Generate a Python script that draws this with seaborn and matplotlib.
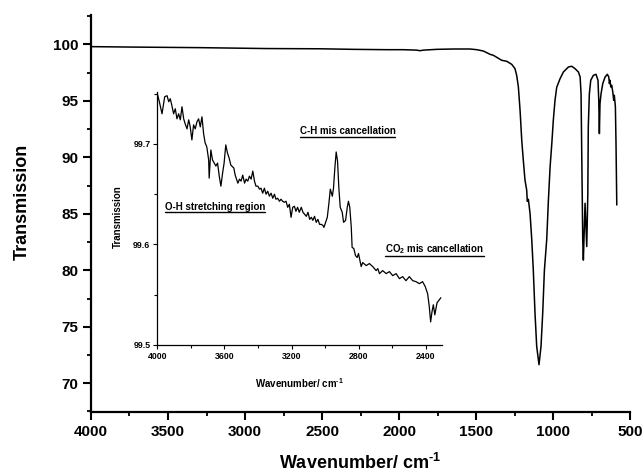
import numpy as np
import pandas as pd
import matplotlib
matplotlib.use("Agg")
import matplotlib.pyplot as plt
import seaborn as sns
from matplotlib.ticker import MultipleLocator, FixedLocator
from matplotlib.lines import Line2D

# ---------------- data ----------------
main_wavenumber = [4000, 3725, 3292, 2859, 2513, 2297, 2080, 1972, 1885, 1863, 1842, 1755, 1647,
                   1539, 1495, 1452, 1409, 1387, 1333, 1300, 1268, 1247, 1236, 1225, 1214, 1203,
                   1193, 1182, 1171, 1167, 1160, 1149, 1138, 1128, 1117, 1106, 1091, 1078, 1067,
                   1056, 1041, 1030, 1019, 1008, 998, 987, 976, 954, 933, 900, 878, 857, 835, 824,
                   818, 813, 807, 803, 792, 781, 774, 771, 764, 755, 738, 721, 708, 703, 699, 695,
                   688, 677, 662, 647, 638, 634, 630, 625, 619, 612, 606, 602, 595, 591, 586]
main_transmission = [99.80, 99.76, 99.71, 99.63, 99.61, 99.56, 99.53, 99.53, 99.49, 99.44, 99.49,
                     99.56, 99.59, 99.59, 99.53, 99.41, 99.12, 99.03, 98.59, 98.50, 98.23, 97.85,
                     97.26, 96.23, 94.17, 91.50, 89.75, 87.98, 87.10, 86.10, 86.28, 85.00, 82.70,
                     80.00, 76.20, 73.26, 71.64, 73.26, 76.20, 80.00, 82.70, 86.20, 89.16, 91.20,
                     93.30, 95.05, 96.20, 96.97, 97.55, 98.00, 98.06, 97.85, 97.55, 97.11, 95.64,
                     89.75, 82.70, 80.90, 85.93, 82.10, 86.80, 92.70, 95.64, 96.82, 97.26, 97.35,
                     96.82, 95.05, 92.10, 94.76, 95.64, 96.53, 97.11, 97.35, 97.11, 96.53, 96.82,
                     96.23, 96.38, 95.79, 95.05, 95.49, 94.46, 91.23, 85.78]

inset_wavenumber = [4000, 3988, 3972, 3956, 3942, 3932, 3923, 3913, 3903, 3893, 3883, 3873, 3863,
                    3853, 3843, 3834, 3823, 3813, 3804, 3794, 3784, 3774, 3764, 3754, 3744, 3734,
                    3724, 3715, 3705, 3694, 3691, 3681, 3671, 3661, 3651, 3641, 3631, 3621, 3611,
                    3602, 3592, 3582, 3572, 3562, 3544, 3536, 3520, 3510, 3501, 3491, 3480, 3471,
                    3461, 3451, 3441, 3431, 3421, 3412, 3401, 3391, 3382, 3372, 3362, 3352, 3342,
                    3332, 3322, 3312, 3302, 3293, 3283, 3272, 3263, 3253, 3243, 3233, 3223, 3213,
                    3203, 3193, 3183, 3174, 3164, 3154, 3142, 3132, 3122, 3112, 3102, 3092, 3082,
                    3073, 3063, 3053, 3043, 3033, 3023, 3013, 3007, 2997, 2987, 2978, 2969, 2957,
                    2950, 2942, 2934, 2926, 2918, 2910, 2898, 2890, 2878, 2868, 2861, 2853, 2844,
                    2839, 2829, 2819, 2809, 2801, 2795, 2785, 2776, 2755, 2736, 2716, 2696, 2686,
                    2676, 2657, 2636, 2617, 2597, 2577, 2557, 2538, 2518, 2498, 2478, 2458, 2438,
                    2419, 2403, 2389, 2379, 2371, 2363, 2355, 2346, 2333, 2310]
inset_transmission = [99.750, 99.742, 99.730, 99.747, 99.748, 99.742, 99.745, 99.738, 99.730,
                      99.735, 99.725, 99.730, 99.724, 99.737, 99.725, 99.720, 99.715, 99.724,
                      99.717, 99.704, 99.719, 99.715, 99.722, 99.725, 99.717, 99.727, 99.710,
                      99.701, 99.697, 99.684, 99.666, 99.694, 99.684, 99.681, 99.678, 99.681,
                      99.668, 99.658, 99.671, 99.681, 99.699, 99.691, 99.686, 99.679, 99.676,
                      99.669, 99.661, 99.665, 99.663, 99.669, 99.661, 99.665, 99.663, 99.668,
                      99.665, 99.673, 99.663, 99.658, 99.658, 99.655, 99.656, 99.651, 99.656,
                      99.650, 99.653, 99.648, 99.651, 99.646, 99.650, 99.645, 99.646, 99.643,
                      99.645, 99.643, 99.642, 99.643, 99.637, 99.640, 99.627, 99.637, 99.638,
                      99.633, 99.637, 99.632, 99.637, 99.632, 99.630, 99.628, 99.632, 99.625,
                      99.627, 99.624, 99.628, 99.622, 99.625, 99.620, 99.620, 99.619, 99.617,
                      99.622, 99.627, 99.640, 99.655, 99.648, 99.656, 99.676, 99.692, 99.683,
                      99.656, 99.637, 99.632, 99.622, 99.624, 99.637, 99.643, 99.637, 99.617,
                      99.597, 99.596, 99.589, 99.587, 99.591, 99.586, 99.578, 99.582, 99.579,
                      99.581, 99.578, 99.574, 99.576, 99.571, 99.574, 99.571, 99.573, 99.569,
                      99.571, 99.566, 99.568, 99.564, 99.568, 99.564, 99.563, 99.561, 99.563,
                      99.558, 99.551, 99.538, 99.523, 99.533, 99.540, 99.530, 99.542, 99.547]

main_xticks = [4000, 3500, 3000, 2500, 2000, 1500, 1000, 500]
main_yticks = [70, 75, 80, 85, 90, 95, 100]
inset_xticks = [4000, 3600, 3200, 2800, 2400]
inset_yticks = [99.5, 99.6, 99.7]

main_xlabel = "Wavenumber/ cm$^{\\text{-1}}$"
main_ylabel = "Transmission"
inset_xlabel = "Wavenumber/ cm$^{\\text{-1}}$"
inset_ylabel = "Transmission"
label_ch = "C-H mis cancellation"
label_oh = "O-H stretching region"
label_co2 = "CO$_2$ mis cancellation"

main_df = pd.DataFrame({"w": main_wavenumber, "t": main_transmission})
inset_df = pd.DataFrame({"w": inset_wavenumber, "t": inset_transmission})

# ---------------- style ----------------
sns.set_theme(style="ticks")
plt.rcParams["font.family"] = ["Liberation Sans", "DejaVu Sans"]
plt.rcParams["font.weight"] = "bold"
plt.rcParams["axes.labelweight"] = "bold"
plt.rcParams["text.color"] = "black"
plt.rcParams["axes.labelcolor"] = "black"
plt.rcParams["xtick.color"] = "black"
plt.rcParams["ytick.color"] = "black"
plt.rcParams["mathtext.fontset"] = "custom"
plt.rcParams["mathtext.rm"] = "Liberation Sans:bold"
plt.rcParams["mathtext.it"] = "Liberation Sans:bold"
plt.rcParams["mathtext.bf"] = "Liberation Sans:bold"
plt.rcParams["mathtext.sf"] = "Liberation Sans:bold"
plt.rcParams["mathtext.default"] = "rm"

fig = plt.figure(figsize=(6.44, 4.75), dpi=100)
fig.patch.set_facecolor("white")

# ---------------- main axes ----------------
ax = fig.add_axes([0.1413, 0.1326, 0.837, 0.8358])
ax.set_facecolor("white")
sns.lineplot(data=main_df, x="w", y="t", ax=ax, color="black", lw=1.1,
             estimator=None, sort=False)
ax.set_xlim(4000, 500)
ax.set_ylim(67.45, 102.6)
ax.xaxis.set_major_locator(FixedLocator(main_xticks))
ax.yaxis.set_major_locator(FixedLocator(main_yticks))
ax.xaxis.set_minor_locator(MultipleLocator(250))
ax.yaxis.set_minor_locator(MultipleLocator(2.5))
for s in ["top", "right"]:
    ax.spines[s].set_visible(False)
for s in ["left", "bottom"]:
    ax.spines[s].set_linewidth(1.6)
    ax.spines[s].set_color("black")
ax.tick_params(axis="both", which="major", direction="out", length=6, width=1.5,
               labelsize=11, pad=3, colors="black")
ax.tick_params(axis="both", which="minor", direction="out", length=3, width=1.3,
               colors="black")
for lab in ax.get_xticklabels() + ax.get_yticklabels():
    lab.set_fontweight("bold")
ax.set_xlabel(main_xlabel, fontsize=13, fontweight="bold", color="black")
ax.set_ylabel(main_ylabel, fontsize=13, fontweight="bold", color="black")
ax.xaxis.set_label_coords(0.5, -0.102)
ax.yaxis.set_label_coords(-0.112, 0.53)

# ---------------- inset axes ----------------
ins = fig.add_axes([0.2443, 0.2737, 0.4416, 0.5333])
ins.patch.set_alpha(0)
sns.lineplot(data=inset_df, x="w", y="t", ax=ins, color="black", lw=0.9,
             estimator=None, sort=False)
ins.set_xlim(4000, 2305)
ins.set_ylim(99.5, 99.752)
ins.xaxis.set_major_locator(FixedLocator(inset_xticks))
ins.yaxis.set_major_locator(FixedLocator(inset_yticks))
ins.xaxis.set_minor_locator(MultipleLocator(200))
ins.yaxis.set_minor_locator(MultipleLocator(0.05))
for s in ["top", "right"]:
    ins.spines[s].set_visible(False)
for s in ["left", "bottom"]:
    ins.spines[s].set_linewidth(0.9)
    ins.spines[s].set_color("black")
ins.tick_params(axis="both", which="major", direction="out", length=3, width=0.8,
                labelsize=6.3, pad=2, colors="black")
ins.tick_params(axis="both", which="minor", direction="out", length=2, width=0.8,
                colors="black")
ins.set_xticklabels([str(v) for v in inset_xticks], fontweight="bold")
ins.set_yticklabels([f"{v:.1f}" for v in inset_yticks], fontweight="bold")
ins.set_xlabel(inset_xlabel, fontsize=7, fontweight="bold", color="black")
ins.set_ylabel(inset_ylabel, fontsize=7, fontweight="bold", color="black")
ins.xaxis.set_label_coords(0.5, -0.125)
ins.yaxis.set_label_coords(-0.122, 0.507)

# annotations (underlined)
t1 = ins.text(3152, 99.7095, label_ch, fontsize=7, fontweight="bold",
              ha="left", va="baseline", color="black")
t2 = ins.text(3954, 99.634, label_oh, fontsize=7, fontweight="bold",
              ha="left", va="baseline", color="black")
t3 = ins.text(2641, 99.592, label_co2, fontsize=7, fontweight="bold",
              ha="left", va="baseline", color="black")

fig.canvas.draw()
renderer = fig.canvas.get_renderer()
inv = fig.transFigure.inverted()
for t, off in [(t1, 2.2), (t2, 2.0), (t3, 3.2)]:
    bb = t.get_window_extent(renderer)
    base = t.get_transform().transform(t.get_position())[1]
    (x0, y0), (x1, _) = inv.transform([[bb.x0, base - off], [bb.x1, base - off]])
    fig.add_artist(Line2D([x0, x1], [y0, y0], transform=fig.transFigure,
                          color="black", lw=1.0))

fig.savefig("out.png", dpi=100, facecolor="white")
